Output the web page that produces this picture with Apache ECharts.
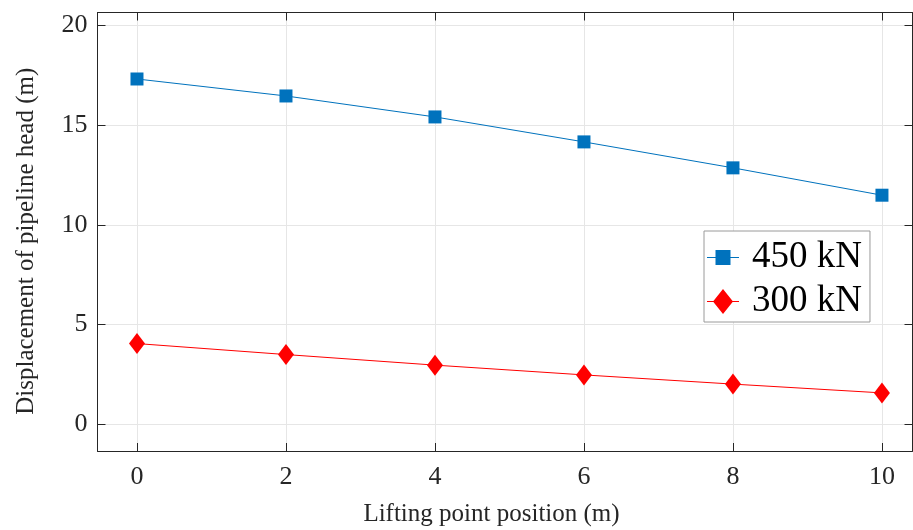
<!DOCTYPE html>
<html>
<head>
<meta charset="utf-8">
<script src="https://cdn.jsdelivr.net/npm/echarts@6/dist/echarts.min.js"></script>
<style>
  html, body { margin: 0; padding: 0; background: #fff; }
  #chart { width: 913px; height: 530px; }
</style>
</head>
<body>
<div id="chart"></div>
<script>
// Lifting point position (m)
const positions = [0, 2, 4, 6, 8, 10];
// Displacement of pipeline head (m) for each lifting force
const disp450 = [17.3, 16.45, 15.4, 14.15, 12.85, 11.48];
const disp300 = [4.05, 3.5, 2.97, 2.48, 2.02, 1.58];
const seriesNames = ['450 kN', '300 kN'];
const xTicks = [0, 2, 4, 6, 8, 10];
const yTicks = [0, 5, 10, 15, 20];

const FONT = '"Liberation Serif", "Times New Roman", serif';
const AXIS_COLOR = '#262626';
const GRID_COLOR = '#e6e6e6';
const BLUE = '#0072BD';
const RED = '#FF0000';

// Legend glyphs: a thin line through the series marker
const ICON_SQUARE = 'path://M0,7 H32 V8 H0 Z M8.5,0 H23.5 V15 H8.5 Z';
const ICON_DIAMOND = 'path://M0,12 H32 V13 H0 Z M16,0 L26,12.5 L16,25 L6,12.5 Z';

const chart = echarts.init(document.getElementById('chart'), null, { renderer: 'canvas' });

const xBase = {
  type: 'value', min: -0.53, max: 10.41,
  axisLine: { show: true, onZero: false, lineStyle: { color: AXIS_COLOR, width: 1 } },
  axisTick: { show: true, inside: true, length: 8, customValues: xTicks, lineStyle: { color: AXIS_COLOR } },
  splitLine: { show: false },
  axisLabel: { show: false }
};
const yBase = {
  type: 'value', min: -1.33, max: 20.63,
  axisLine: { show: true, onZero: false, lineStyle: { color: AXIS_COLOR, width: 1 } },
  axisTick: { show: true, inside: true, length: 8, customValues: yTicks, lineStyle: { color: AXIS_COLOR } },
  splitLine: { show: false },
  axisLabel: { show: false }
};

const option = {
  animation: false,
  backgroundColor: '#fff',
  grid: { left: 97.5, right: 0.5, top: 12.5, bottom: 79, containLabel: false, outerBoundsMode: 'none' },
  xAxis: [
    Object.assign({}, xBase, {
      position: 'bottom',
      splitLine: { show: true, lineStyle: { color: GRID_COLOR, width: 1 } },
      axisLabel: {
        show: true, customValues: xTicks, color: AXIS_COLOR,
        fontFamily: FONT, fontSize: 26, margin: 13
      },
      name: 'Lifting point position (m)',
      nameLocation: 'middle', nameGap: 51,
      nameTextStyle: { color: AXIS_COLOR, fontFamily: FONT, fontSize: 25, padding: [0, 27, 0, 0] }
    }),
    Object.assign({}, xBase, { position: 'top' })
  ],
  yAxis: [
    Object.assign({}, yBase, {
      position: 'left',
      splitLine: { show: true, lineStyle: { color: GRID_COLOR, width: 1 } },
      axisLabel: {
        show: true, customValues: yTicks, color: AXIS_COLOR,
        fontFamily: FONT, fontSize: 26, margin: 10
      },
      name: 'Displacement of pipeline head (m)',
      nameLocation: 'middle', nameGap: 59, nameRotate: 90,
      nameTextStyle: { color: AXIS_COLOR, fontFamily: FONT, fontSize: 25, padding: [0, 19, 0, 0] }
    }),
    Object.assign({}, yBase, { position: 'right' })
  ],
  legend: {
    orient: 'vertical',
    left: 704, top: 231,
    padding: [8, 8, 2, 3],
    itemGap: 7,
    itemWidth: 32, itemHeight: 25,
    backgroundColor: '#fff',
    borderColor: '#9a9a9a', borderWidth: 1,
    itemStyle: { borderWidth: 0 },
    textStyle: { fontFamily: FONT, fontSize: 37, color: '#000', padding: [0, 0, 0, 8] },
    data: [
      { name: seriesNames[0], icon: ICON_SQUARE },
      { name: seriesNames[1], icon: ICON_DIAMOND }
    ]
  },
  series: [
    {
      name: seriesNames[0], type: 'line',
      data: positions.map((x, i) => [x, disp450[i]]),
      symbol: 'rect', symbolSize: 13,
      lineStyle: { color: BLUE, width: 1 },
      itemStyle: { color: BLUE }
    },
    {
      name: seriesNames[1], type: 'line',
      data: positions.map((x, i) => [x, disp300[i]]),
      symbol: 'diamond', symbolSize: [16, 21],
      lineStyle: { color: RED, width: 1 },
      itemStyle: { color: RED }
    }
  ]
};

chart.setOption(option);
</script>
</body>
</html>
